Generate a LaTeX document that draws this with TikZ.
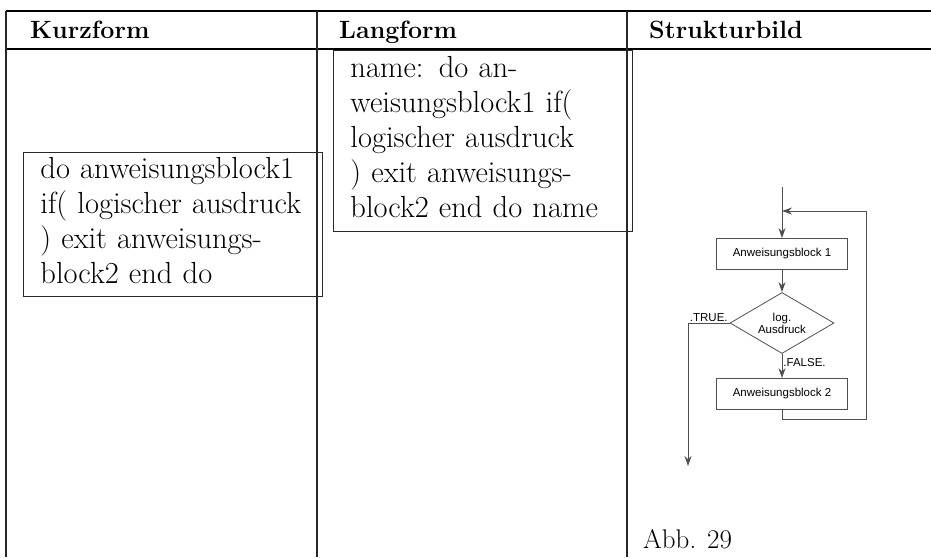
\documentclass[tikz,border=0pt]{standalone}
\usepackage{fontspec}
\usepackage{tikz}
\usetikzlibrary{arrows.meta, shapes.geometric}
\newfontfamily\flowfont{Liberation Sans}
\definecolor{rulegray}{RGB}{40,40,40}
\definecolor{flowgray}{RGB}{80,80,80}
\tikzstyle{head} = [anchor=base west, inner sep=0,
    font=\fontsize{25}{30}\selectfont\bfseries]
\tikzstyle{codebox} = [draw=rulegray, line width=0.9, anchor=north west,
    inner xsep=17, inner ysep=0, minimum width=299, text width=265,
    align=left, font=\fontsize{30.5}{35}\selectfont]
\tikzstyle{block} = [draw=flowgray, line width=0.8, minimum width=131,
    minimum height=31, inner sep=0, font=\flowfont\fontsize{11.5}{13}\selectfont]
\tikzstyle{decide} = [diamond, draw=flowgray, line width=0.8, aspect=1.7,
    minimum width=104, minimum height=61, inner sep=0, align=center,
    font=\flowfont\fontsize{11.5}{13}\selectfont]
\tikzstyle{flow} = [draw=flowgray, line width=0.9, -{Stealth[length=10,width=7]}]
\tikzstyle{flowlabel} = [inner sep=1, font=\flowfont\fontsize{11.5}{13}\selectfont]

\begin{document}
\begin{tikzpicture}[x=1pt, y=-1pt]
\useasboundingbox (0,0) rectangle (931,557);

%%% TABLE
\draw[black, line width=1.2] (6,11) -- (931,11);
\draw[black, line width=2] (6,49) -- (931,49);
\draw[rulegray, line width=1.2] (6,11) -- (6,557);
\draw[rulegray, line width=1.2] (317,11) -- (317,557);
\draw[rulegray, line width=1.2] (627,11) -- (627,557);

% header
\node[head] (hkurz) at (30,38) {Kurzform};
\node[head] (hlang) at (339,38) {Langform};
\node[head] (hstruk) at (649,38) {Strukturbild};

%%% KURZFORM
\node[codebox, minimum height=144] (kurz) at (23,152)
    {\begin{tabular}{@{}l@{}} do anweisungsblock1 \\ if( logischer ausdruck \\
     ) exit anweisungs- \\ block2 end do \end{tabular}};

%%% LANGFORM
\node[codebox, minimum height=181] (lang) at (333,50)
    {\begin{tabular}{@{}l@{}} name: do an- \\ weisungsblock1 if( \\
     logischer ausdruck \\ ) exit anweisungs- \\ block2 end do name \end{tabular}};

%%% STRUKTURBILD
\node[block] (blk1) at (782,254) {Anweisungsblock 1};
\node[decide] (cond) at (782,323) {log.\\[-1pt]Ausdruck};
\node[block] (blk2) at (782,394) {Anweisungsblock 2};
\coordinate (entry) at (782,187);
\coordinate (join) at (782,211);
\coordinate (back) at (866,211);
\coordinate (done) at (688,466);

\draw[flow] (entry) -- (blk1);
\draw[flow] (blk1) -- (cond);
\draw[flow] (cond) -- node[flowlabel, right, pos=0.35] {.FALSE.} (blk2);
\draw[flow] (cond.west) -| node[flowlabel, above, pos=0.25] {.TRUE.} (done);
\draw[flow] (blk2.south) -- ++(0,10) -| (back) -- (join);

\node[anchor=base west, inner sep=0, font=\fontsize{27}{34}\selectfont]
    (abb) at (643,548) {Abb. 29};

\end{tikzpicture}
\end{document}
